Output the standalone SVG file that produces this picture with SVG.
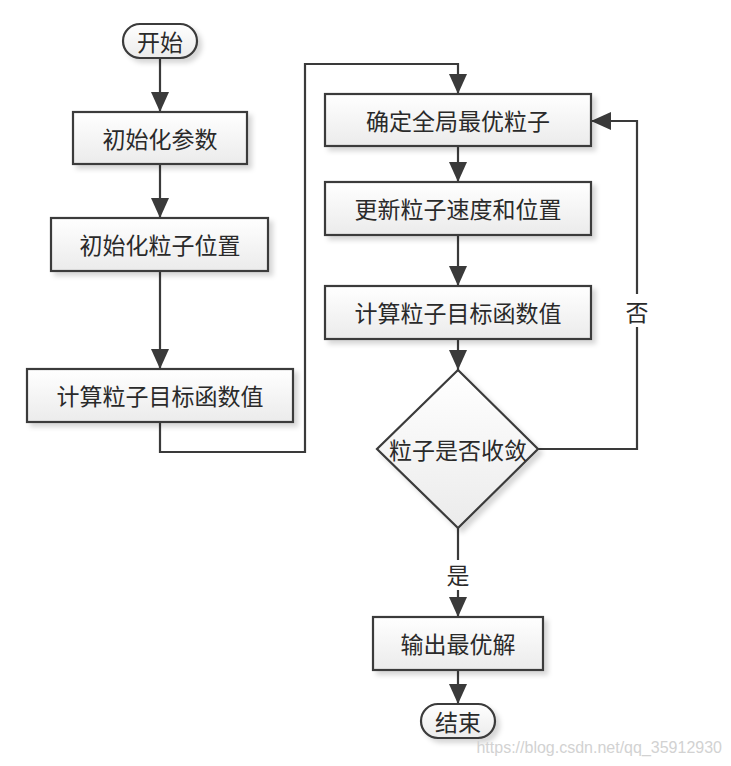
<svg xmlns="http://www.w3.org/2000/svg" width="731" height="766" viewBox="0 0 731 766">
<defs>
<linearGradient id="g" x1="0" y1="0" x2="0" y2="1">
<stop offset="0" stop-color="#ffffff"/>
<stop offset="1" stop-color="#ebebeb"/>
</linearGradient>
<filter id="sh" x="-10%" y="-10%" width="130%" height="140%">
<feGaussianBlur in="SourceAlpha" stdDeviation="2.5"/>
<feOffset dx="4" dy="4" result="b"/>
<feFlood flood-color="#000" flood-opacity="0.16"/>
<feComposite in2="b" operator="in"/>
<feMerge><feMergeNode/><feMergeNode in="SourceGraphic"/></feMerge>
</filter>
<marker id="ah" viewBox="0 0 20 18" refX="20" refY="9" markerWidth="20" markerHeight="18" markerUnits="userSpaceOnUse" orient="auto">
<path d="M0,0 L20,9 L0,18 z" fill="#3a3a3a"/>
</marker>
</defs>
<style>
.n{fill:url(#g);stroke:#3a3a3a;stroke-width:2.2;filter:url(#sh)}
.t{font-family:"Noto Sans CJK SC","Noto Sans CJK JP",sans-serif;font-size:23px;fill:#2a2a2a;text-anchor:middle;dominant-baseline:central}
.c{fill:none;stroke:#3a3a3a;stroke-width:2.2}
.a{marker-end:url(#ah)}
</style>
<rect width="731" height="766" fill="#ffffff"/>
<g id="connectors">
<path class="c a" d="M160,58 V112"/>
<path class="c a" d="M160,164 V218"/>
<path class="c a" d="M160,271 V369"/>
<path class="c a" d="M160,422 V452 H305 V64 H458 V94"/>
<path class="c a" d="M458,146 V182"/>
<path class="c a" d="M458,235 V286"/>
<path class="c a" d="M458,339 V370"/>
<path class="c a" d="M538,449 H637 V121 H591"/>
<path class="c a" d="M458,528 V617"/>
<path class="c a" d="M458,670 V704"/>
<rect x="624" y="294" width="26" height="33" fill="#fff"/>
<text class="t" x="637" y="311">否</text>
<rect x="445" y="560" width="26" height="30" fill="#fff"/>
<text class="t" x="458" y="574">是</text>
</g>
<g id="start"><rect class="n" x="123" y="24" width="74" height="34" rx="17"/><text class="t" x="160" y="41">开始</text></g>
<g id="init_params"><rect class="n" x="73" y="112" width="174" height="52"/><text class="t" x="160" y="138">初始化参数</text></g>
<g id="init_pos"><rect class="n" x="51" y="218" width="217" height="53"/><text class="t" x="160" y="244">初始化粒子位置</text></g>
<g id="calc1"><rect class="n" x="27" y="369" width="266" height="53"/><text class="t" x="160" y="395">计算粒子目标函数值</text></g>
<g id="gbest"><rect class="n" x="325" y="94" width="266" height="52"/><text class="t" x="458" y="120">确定全局最优粒子</text></g>
<g id="update"><rect class="n" x="325" y="182" width="266" height="53"/><text class="t" x="458" y="208">更新粒子速度和位置</text></g>
<g id="calc2"><rect class="n" x="325" y="286" width="266" height="53"/><text class="t" x="458" y="312">计算粒子目标函数值</text></g>
<g id="converge"><path class="n" d="M458,370 L538,449 L458,528 L377,449 z"/><text class="t" x="458" y="449">粒子是否收敛</text></g>
<g id="output"><rect class="n" x="373" y="617" width="170" height="53"/><text class="t" x="458" y="643">输出最优解</text></g>
<g id="end"><rect class="n" x="421" y="704" width="74" height="34" rx="17"/><text class="t" x="458" y="721">结束</text></g>
<text x="722" y="753" font-family="Liberation Sans,Arial,sans-serif" font-size="16" fill="#d2d2d2" text-anchor="end">https://blog.csdn.net/qq_35912930</text>
</svg>
